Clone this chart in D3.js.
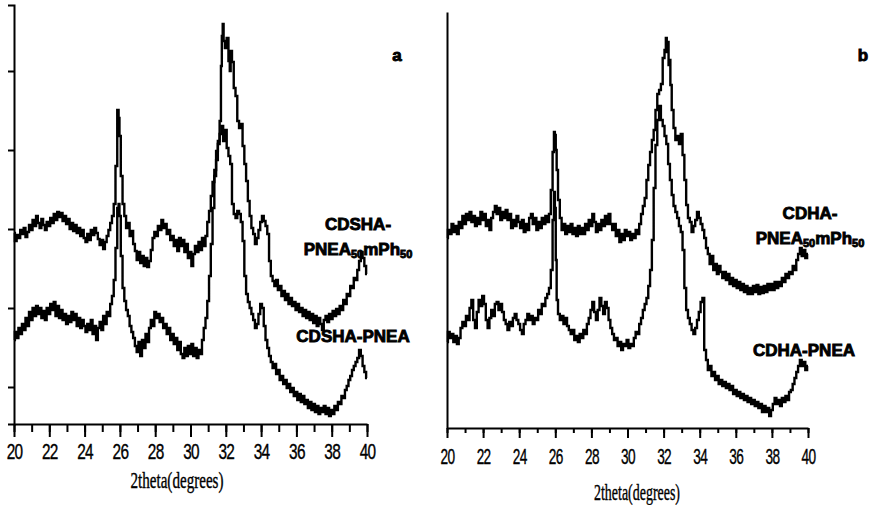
<!DOCTYPE html>
<html>
<head>
<meta charset="utf-8">
<script src="https://cdn.jsdelivr.net/npm/d3@7"></script>
<style>
  body { margin: 0; background: #fff; }
  svg { display: block; }
  .lbl { font-family: "Liberation Sans", Arial, sans-serif; font-weight: bold; font-size: 17px; fill: #000; stroke: #000; stroke-width: 0.9; }
</style>
</head>
<body>
<div id="chart"></div>
<script>
// 2theta (deg) vs intensity (arb. counts)
const cdshaBlend = [
  [20.0,233],[20.1,225],[20.2,231],[20.3,228],[20.4,236],[20.5,232],[20.6,238],[20.7,229],[20.8,234],[20.9,241],
  [21.0,236],[21.1,246],[21.2,240],[21.3,250],[21.4,243],[21.5,238],[21.6,247],[21.7,241],[21.8,236],[21.9,244],
  [22.0,240],[22.1,248],[22.2,243],[22.3,252],[22.4,246],[22.5,254],[22.6,249],[22.7,253],[22.8,245],[22.9,250],
  [23.0,242],[23.1,247],[23.2,237],[23.3,243],[23.4,235],[23.5,241],[23.6,233],[23.7,238],[23.8,230],[23.9,236],
  [24.0,228],[24.1,224],[24.2,232],[24.3,226],[24.4,236],[24.5,231],[24.6,238],[24.7,233],[24.8,227],[24.9,221],
  [25.0,226],[25.1,217],[25.2,224],[25.3,230],[25.4,236],[25.5,243],[25.6,250],[25.7,262],[25.8,300],[25.9,356],
  [25.95,348],[26.0,330],[26.1,290],[26.2,262],[26.3,250],[26.4,238],[26.5,243],[26.6,230],[26.7,235],[26.8,222],
  [26.9,215],[27.0,206],[27.1,214],[27.2,203],[27.3,210],[27.4,200],[27.5,208],[27.6,199],[27.7,205],[27.8,216],
  [27.9,228],[28.0,234],[28.1,230],[28.2,240],[28.3,236],[28.4,246],[28.5,238],[28.6,242],[28.7,232],[28.8,236],
  [28.9,226],[29.0,230],[29.1,220],[29.2,226],[29.3,215],[29.4,228],[29.5,220],[29.6,226],[29.7,214],[29.8,222],
  [29.9,208],[30.0,214],[30.1,200],[30.2,212],[30.3,220],[30.4,214],[30.5,224],[30.6,216],[30.7,228],[30.8,220],
  [30.9,230],[31.0,244],[31.1,255],[31.2,270],[31.3,284],[31.4,296],[31.5,306],[31.6,322],[31.7,345],[31.75,400],
  [31.8,430],[31.85,442],[31.9,425],[32.0,418],[32.1,428],[32.2,405],[32.25,395],[32.3,415],[32.4,404],[32.5,378],
  [32.6,370],[32.7,345],[32.8,338],[32.9,342],[33.0,320],[33.1,302],[33.2,285],[33.3,265],[33.4,250],[33.5,238],
  [33.6,232],[33.7,222],[33.8,228],[33.9,236],[34.0,244],[34.1,250],[34.2,245],[34.3,240],[34.4,232],[34.5,205],
  [34.6,190],[34.7,185],[34.8,180],[34.9,186],[35.0,176],[35.1,180],[35.2,170],[35.3,175],[35.4,166],[35.5,172],
  [35.6,162],[35.7,168],[35.8,160],[35.9,164],[36.0,156],[36.1,162],[36.2,154],[36.3,158],[36.4,150],[36.5,156],
  [36.6,148],[36.7,154],[36.8,146],[36.9,152],[37.0,143],[37.1,150],[37.2,140],[37.3,148],[37.4,142],[37.5,136],
  [37.6,146],[37.7,150],[37.8,144],[37.9,152],[38.0,147],[38.1,155],[38.2,150],[38.3,157],[38.4,152],[38.5,160],
  [38.6,156],[38.7,166],[38.8,162],[38.9,172],[39.0,170],[39.1,180],[39.2,178],[39.3,188],[39.4,186],[39.5,196],
  [39.6,205],[39.7,214],[39.8,208],[39.9,200],[40.0,192]
]

const cdshaPnea = [
  [20.0,126],[20.1,134],[20.2,128],[20.3,138],[20.4,132],[20.5,142],[20.6,136],[20.7,148],[20.8,140],[20.9,154],
  [21.0,146],[21.1,158],[21.2,150],[21.3,160],[21.4,152],[21.5,158],[21.6,148],[21.7,155],[21.8,146],[21.9,158],
  [22.0,152],[22.1,162],[22.2,156],[22.3,164],[22.4,150],[22.5,160],[22.6,148],[22.7,156],[22.8,146],[22.9,152],
  [23.0,142],[23.1,150],[23.2,144],[23.3,154],[23.4,146],[23.5,152],[23.6,140],[23.7,148],[23.8,138],[23.9,146],
  [24.0,140],[24.1,134],[24.2,142],[24.3,136],[24.4,146],[24.5,132],[24.6,140],[24.7,126],[24.8,138],[24.9,144],
  [25.0,136],[25.1,150],[25.2,142],[25.3,154],[25.4,150],[25.5,162],[25.6,170],[25.7,186],[25.8,218],[25.9,258],
  [25.95,262],[26.0,250],[26.1,210],[26.2,178],[26.3,165],[26.4,156],[26.5,150],[26.6,140],[26.7,134],[26.8,128],
  [26.9,120],[27.0,114],[27.1,124],[27.2,110],[27.3,126],[27.4,118],[27.5,132],[27.6,124],[27.7,138],[27.8,146],
  [27.9,140],[28.0,154],[28.1,148],[28.2,152],[28.3,144],[28.4,148],[28.5,138],[28.6,142],[28.7,132],[28.8,138],
  [28.9,126],[29.0,132],[29.1,122],[29.2,128],[29.3,116],[29.4,124],[29.5,112],[29.6,108],[29.7,118],[29.8,110],
  [29.9,120],[30.0,112],[30.1,122],[30.2,110],[30.3,118],[30.4,108],[30.5,116],[30.6,112],[30.7,126],[30.8,138],
  [30.9,148],[31.0,165],[31.1,190],[31.2,222],[31.3,258],[31.4,290],[31.5,315],[31.6,325],[31.7,332],[31.8,340],
  [31.9,325],[32.0,336],[32.1,318],[32.2,310],[32.3,302],[32.4,262],[32.5,252],[32.6,248],[32.7,255],[32.8,252],
  [32.9,244],[33.0,225],[33.1,190],[33.2,172],[33.3,164],[33.4,158],[33.5,152],[33.6,146],[33.7,138],[33.8,142],
  [33.9,152],[34.0,162],[34.1,158],[34.2,140],[34.3,126],[34.4,118],[34.5,110],[34.6,104],[34.7,98],[34.8,102],
  [34.9,92],[35.0,96],[35.1,86],[35.2,90],[35.3,82],[35.4,86],[35.5,78],[35.6,82],[35.7,74],[35.8,78],
  [35.9,70],[36.0,74],[36.1,66],[36.2,72],[36.3,64],[36.4,70],[36.5,62],[36.6,66],[36.7,58],[36.8,64],
  [36.9,56],[37.0,62],[37.1,54],[37.2,60],[37.3,52],[37.4,58],[37.5,54],[37.6,60],[37.7,52],[37.8,58],
  [37.9,50],[38.0,56],[38.1,52],[38.2,60],[38.3,56],[38.4,64],[38.5,62],[38.6,70],[38.7,68],[38.8,76],
  [38.9,80],[39.0,86],[39.1,90],[39.2,96],[39.3,100],[39.4,104],[39.5,108],[39.6,116],[39.7,110],[39.8,100],
  [39.9,94],[40.0,88]
]

const cdhaBlend = [
  [20.0,232],[20.1,240],[20.2,236],[20.3,246],[20.4,238],[20.5,244],[20.6,236],[20.7,248],[20.8,242],[20.9,254],
  [21.0,246],[21.1,256],[21.2,250],[21.3,258],[21.4,248],[21.5,254],[21.6,244],[21.7,252],[21.8,246],[21.9,258],
  [22.0,250],[22.1,256],[22.2,244],[22.3,250],[22.4,240],[22.5,252],[22.6,258],[22.7,264],[22.8,256],[22.9,262],
  [23.0,250],[23.1,258],[23.2,252],[23.3,260],[23.4,250],[23.5,256],[23.6,242],[23.7,250],[23.8,244],[23.9,254],
  [24.0,248],[24.1,242],[24.2,250],[24.3,238],[24.4,246],[24.5,240],[24.6,252],[24.7,256],[24.8,246],[24.9,252],
  [25.0,240],[25.1,248],[25.2,242],[25.3,252],[25.4,246],[25.5,254],[25.6,248],[25.7,256],[25.8,280],[25.9,318],
  [25.95,338],[26.0,335],[26.05,320],[26.1,300],[26.2,270],[26.3,252],[26.4,240],[26.5,246],[26.6,236],[26.7,244],
  [26.8,238],[26.9,246],[27.0,236],[27.1,242],[27.2,234],[27.3,244],[27.4,236],[27.5,242],[27.6,236],[27.7,246],
  [27.8,240],[27.9,250],[28.0,244],[28.1,256],[28.2,248],[28.3,238],[28.4,246],[28.5,240],[28.6,250],[28.7,244],
  [28.8,254],[28.9,246],[29.0,256],[29.1,246],[29.2,240],[29.3,246],[29.4,234],[29.5,240],[29.6,228],[29.7,236],
  [29.8,230],[29.9,240],[30.0,234],[30.1,238],[30.2,230],[30.3,236],[30.4,232],[30.5,240],[30.6,236],[30.7,246],
  [30.8,256],[30.9,264],[31.0,272],[31.1,290],[31.2,305],[31.3,318],[31.4,330],[31.5,340],[31.6,360],[31.7,376],
  [31.8,380],[31.9,386],[32.0,412],[32.1,420],[32.15,432],[32.2,418],[32.25,428],[32.3,405],[32.35,410],[32.4,385],
  [32.5,360],[32.6,342],[32.7,330],[32.8,334],[32.9,326],[33.0,336],[33.1,315],[33.2,290],[33.3,265],[33.4,252],
  [33.5,248],[33.6,238],[33.7,244],[33.8,250],[33.9,258],[34.0,252],[34.1,246],[34.2,240],[34.3,232],[34.4,222],
  [34.5,216],[34.6,206],[34.7,214],[34.8,200],[34.9,206],[35.0,196],[35.1,204],[35.2,198],[35.3,192],[35.4,198],
  [35.5,190],[35.6,196],[35.7,186],[35.8,192],[35.9,184],[36.0,190],[36.1,182],[36.2,188],[36.3,180],[36.4,186],
  [36.5,178],[36.6,184],[36.7,176],[36.8,182],[36.9,176],[37.0,184],[37.1,178],[37.2,185],[37.3,176],[37.4,183],
  [37.5,177],[37.6,184],[37.7,178],[37.8,186],[37.9,180],[38.0,186],[38.1,180],[38.2,188],[38.3,182],[38.4,188],
  [38.5,184],[38.6,192],[38.7,188],[38.8,196],[38.9,192],[39.0,198],[39.1,196],[39.2,204],[39.3,200],[39.4,210],
  [39.5,216],[39.6,222],[39.7,214],[39.8,220],[39.9,212],[40.0,216]
]

const cdhaPnea = [
  [20.0,128],[20.1,138],[20.2,132],[20.3,136],[20.4,128],[20.5,134],[20.6,126],[20.7,132],[20.8,142],[20.9,148],
  [21.0,144],[21.1,154],[21.2,150],[21.3,162],[21.4,170],[21.5,150],[21.6,142],[21.7,158],[21.8,170],[21.9,164],
  [22.0,174],[22.1,166],[22.2,150],[22.3,142],[22.4,152],[22.5,160],[22.6,154],[22.7,166],[22.8,168],[22.9,160],
  [23.0,166],[23.1,158],[23.2,150],[23.3,146],[23.4,140],[23.5,148],[23.6,144],[23.7,152],[23.8,156],[23.9,150],
  [24.0,146],[24.1,140],[24.2,136],[24.3,146],[24.4,150],[24.5,156],[24.6,150],[24.7,154],[24.8,146],[24.9,152],
  [25.0,150],[25.1,160],[25.2,156],[25.3,166],[25.4,164],[25.5,172],[25.6,176],[25.7,182],[25.8,200],[25.9,250],
  [25.95,278],[26.0,262],[26.05,210],[26.1,170],[26.2,156],[26.3,150],[26.4,154],[26.5,146],[26.6,152],[26.7,144],
  [26.8,140],[26.9,136],[27.0,140],[27.1,130],[27.2,134],[27.3,128],[27.4,136],[27.5,132],[27.6,140],[27.7,136],
  [27.8,146],[27.9,152],[28.0,160],[28.1,168],[28.2,158],[28.3,150],[28.4,160],[28.5,172],[28.6,164],[28.7,156],
  [28.8,168],[28.9,162],[29.0,150],[29.1,142],[29.2,136],[29.3,130],[29.4,132],[29.5,124],[29.6,128],[29.7,120],
  [29.8,126],[29.9,124],[30.0,130],[30.1,122],[30.2,126],[30.3,124],[30.4,132],[30.5,138],[30.6,136],[30.7,146],
  [30.8,152],[30.9,160],[31.0,166],[31.1,172],[31.2,184],[31.3,200],[31.4,230],[31.5,282],[31.6,325],[31.7,350],
  [31.8,364],[31.9,350],[32.0,344],[32.1,334],[32.2,326],[32.3,306],[32.4,290],[32.5,275],[32.6,264],[32.7,258],
  [32.8,252],[32.9,244],[33.0,238],[33.1,220],[33.2,182],[33.3,160],[33.4,152],[33.5,146],[33.6,140],[33.7,136],
  [33.8,142],[33.9,150],[34.0,158],[34.1,168],[34.2,172],[34.3,120],[34.4,110],[34.5,100],[34.6,104],[34.7,94],
  [34.8,98],[34.9,90],[35.0,94],[35.1,86],[35.2,90],[35.3,84],[35.4,88],[35.5,82],[35.6,86],[35.7,80],
  [35.8,84],[35.9,76],[36.0,80],[36.1,74],[36.2,78],[36.3,72],[36.4,76],[36.5,70],[36.6,74],[36.7,68],
  [36.8,72],[36.9,66],[37.0,70],[37.1,64],[37.2,68],[37.3,62],[37.4,66],[37.5,58],[37.6,64],[37.7,58],
  [37.8,62],[37.9,54],[38.0,60],[38.1,66],[38.2,72],[38.3,66],[38.4,70],[38.5,64],[38.6,72],[38.7,68],
  [38.8,74],[38.9,70],[39.0,78],[39.1,80],[39.2,86],[39.3,92],[39.4,98],[39.5,104],[39.6,110],[39.7,104],
  [39.8,108],[39.9,100],[40.0,104]
]

const xMinor = d3.range(20, 41, 1)
const xMajor = [20, 22, 24, 26, 28, 30, 32, 34, 36, 38, 40]
const yTicksA = [79, 158, 237, 316, 395]

const width = 876
const height = 505

const svg = d3.select('#chart').append('svg')
  .attr('width', width)
  .attr('height', height)

function drawPanel (opts) {
  const x = d3.scaleLinear().domain([20, 40]).range([opts.left, opts.right])
  const y = d3.scaleLinear().domain(opts.yDomain).range([opts.bottom, opts.top])
  const g = svg.append('g')

  // minor ticks
  g.append('g')
    .attr('transform', `translate(0,${opts.bottom})`)
    .call(d3.axisBottom(x).tickValues(xMinor).tickSize(opts.minor).tickSizeOuter(0).tickFormat(''))
    .call(s => s.selectAll('line').attr('stroke-width', 2))
    .call(s => s.select('.domain').attr('stroke-width', 2))

  // major ticks + labels, squeezed like the scanned figure
  g.append('g')
    .attr('transform', `translate(0,${opts.bottom})`)
    .attr('font-family', '"Liberation Serif", serif')
    .attr('font-size', 22)
    .call(d3.axisBottom(x).tickValues(xMajor).tickSize(opts.major).tickSizeOuter(0).tickFormat(d3.format('d')))
    .call(s => s.selectAll('line').attr('stroke-width', 2))
    .call(s => s.select('.domain').remove())
    .call(s => s.selectAll('text')
      .attr('dy', null)
      .attr('y', opts.labelY)
      .attr('font-size', 22)
      .attr('stroke', '#000')
      .attr('stroke-width', 0.4)
      .attr('letter-spacing', -1)
      .attr('transform', `scale(${opts.squeeze},1)`))

  const yAxis = d3.axisLeft(y).tickSizeOuter(0).tickFormat('')
  if (opts.yTicks) yAxis.tickValues(opts.yTicks).tickSize(6)
  else yAxis.tickValues([])
  g.append('g')
    .attr('transform', `translate(${opts.left},0)`)
    .call(yAxis)
    .call(s => s.selectAll('line').attr('stroke-width', 2))
    .call(s => s.select('.domain').attr('stroke-width', 2))

  const line = d3.line()
    .x(d => x(d[0]))
    .y(d => y(d[1]))
    .curve(d3.curveStep)

  opts.series.forEach(s => {
    g.append('path')
      .attr('d', line(s))
      .attr('fill', 'none')
      .attr('stroke', '#000')
      .attr('stroke-width', 2.4)
  })

  g.append('text')
    .attr('x', opts.titleX)
    .attr('y', opts.titleY)
    .attr('text-anchor', 'middle')
    .attr('font-family', '"Liberation Serif", serif')
    .attr('font-size', 23)
    .attr('stroke', '#000')
    .attr('stroke-width', 0.4)
    .attr('textLength', opts.titleW)
    .attr('lengthAdjust', 'spacingAndGlyphs')
    .text('2theta(degrees)')

  return g
}

function blendLabel (g, name, cx, y1) {
  g.append('text').attr('class', 'lbl').attr('x', cx).attr('y', y1)
    .attr('text-anchor', 'middle').text(name + '-')
  const t = g.append('text').attr('class', 'lbl').attr('x', cx).attr('y', y1 + 25)
    .attr('text-anchor', 'middle')
  t.append('tspan').text('PNEA')
  t.append('tspan').attr('font-size', 11).attr('dy', 3).text('50')
  t.append('tspan').attr('dy', -3).text('mPh')
  t.append('tspan').attr('font-size', 11).attr('dy', 3).text('50')
}

const ga = drawPanel({
  left: 14, right: 367, top: 5, bottom: 424,
  yDomain: [42, 461], yTicks: yTicksA,
  minor: 8, major: 13, labelY: 35, squeeze: 0.7,
  series: [cdshaBlend, cdshaPnea],
  titleX: 177, titleY: 488, titleW: 93
})
ga.append('text').attr('class', 'lbl').attr('x', 397).attr('y', 61)
  .attr('text-anchor', 'middle').attr('font-size', 20).text('a')
blendLabel(ga, 'CDSHA', 358, 230)
ga.append('text').attr('class', 'lbl').attr('x', 353).attr('y', 342)
  .attr('text-anchor', 'middle').text('CDSHA-PNEA')

const gb = drawPanel({
  left: 447, right: 808, top: 12, bottom: 428,
  yDomain: [42, 458], yTicks: null,
  minor: 5, major: 10, labelY: 36, squeeze: 0.62,
  series: [cdhaBlend, cdhaPnea],
  titleX: 637, titleY: 500, titleW: 86
})
gb.append('text').attr('class', 'lbl').attr('x', 863).attr('y', 61)
  .attr('text-anchor', 'middle').attr('font-size', 20).text('b')
blendLabel(gb, 'CDHA', 810, 219)
gb.append('text').attr('class', 'lbl').attr('x', 804).attr('y', 356)
  .attr('text-anchor', 'middle').text('CDHA-PNEA')
</script>
</body>
</html>
